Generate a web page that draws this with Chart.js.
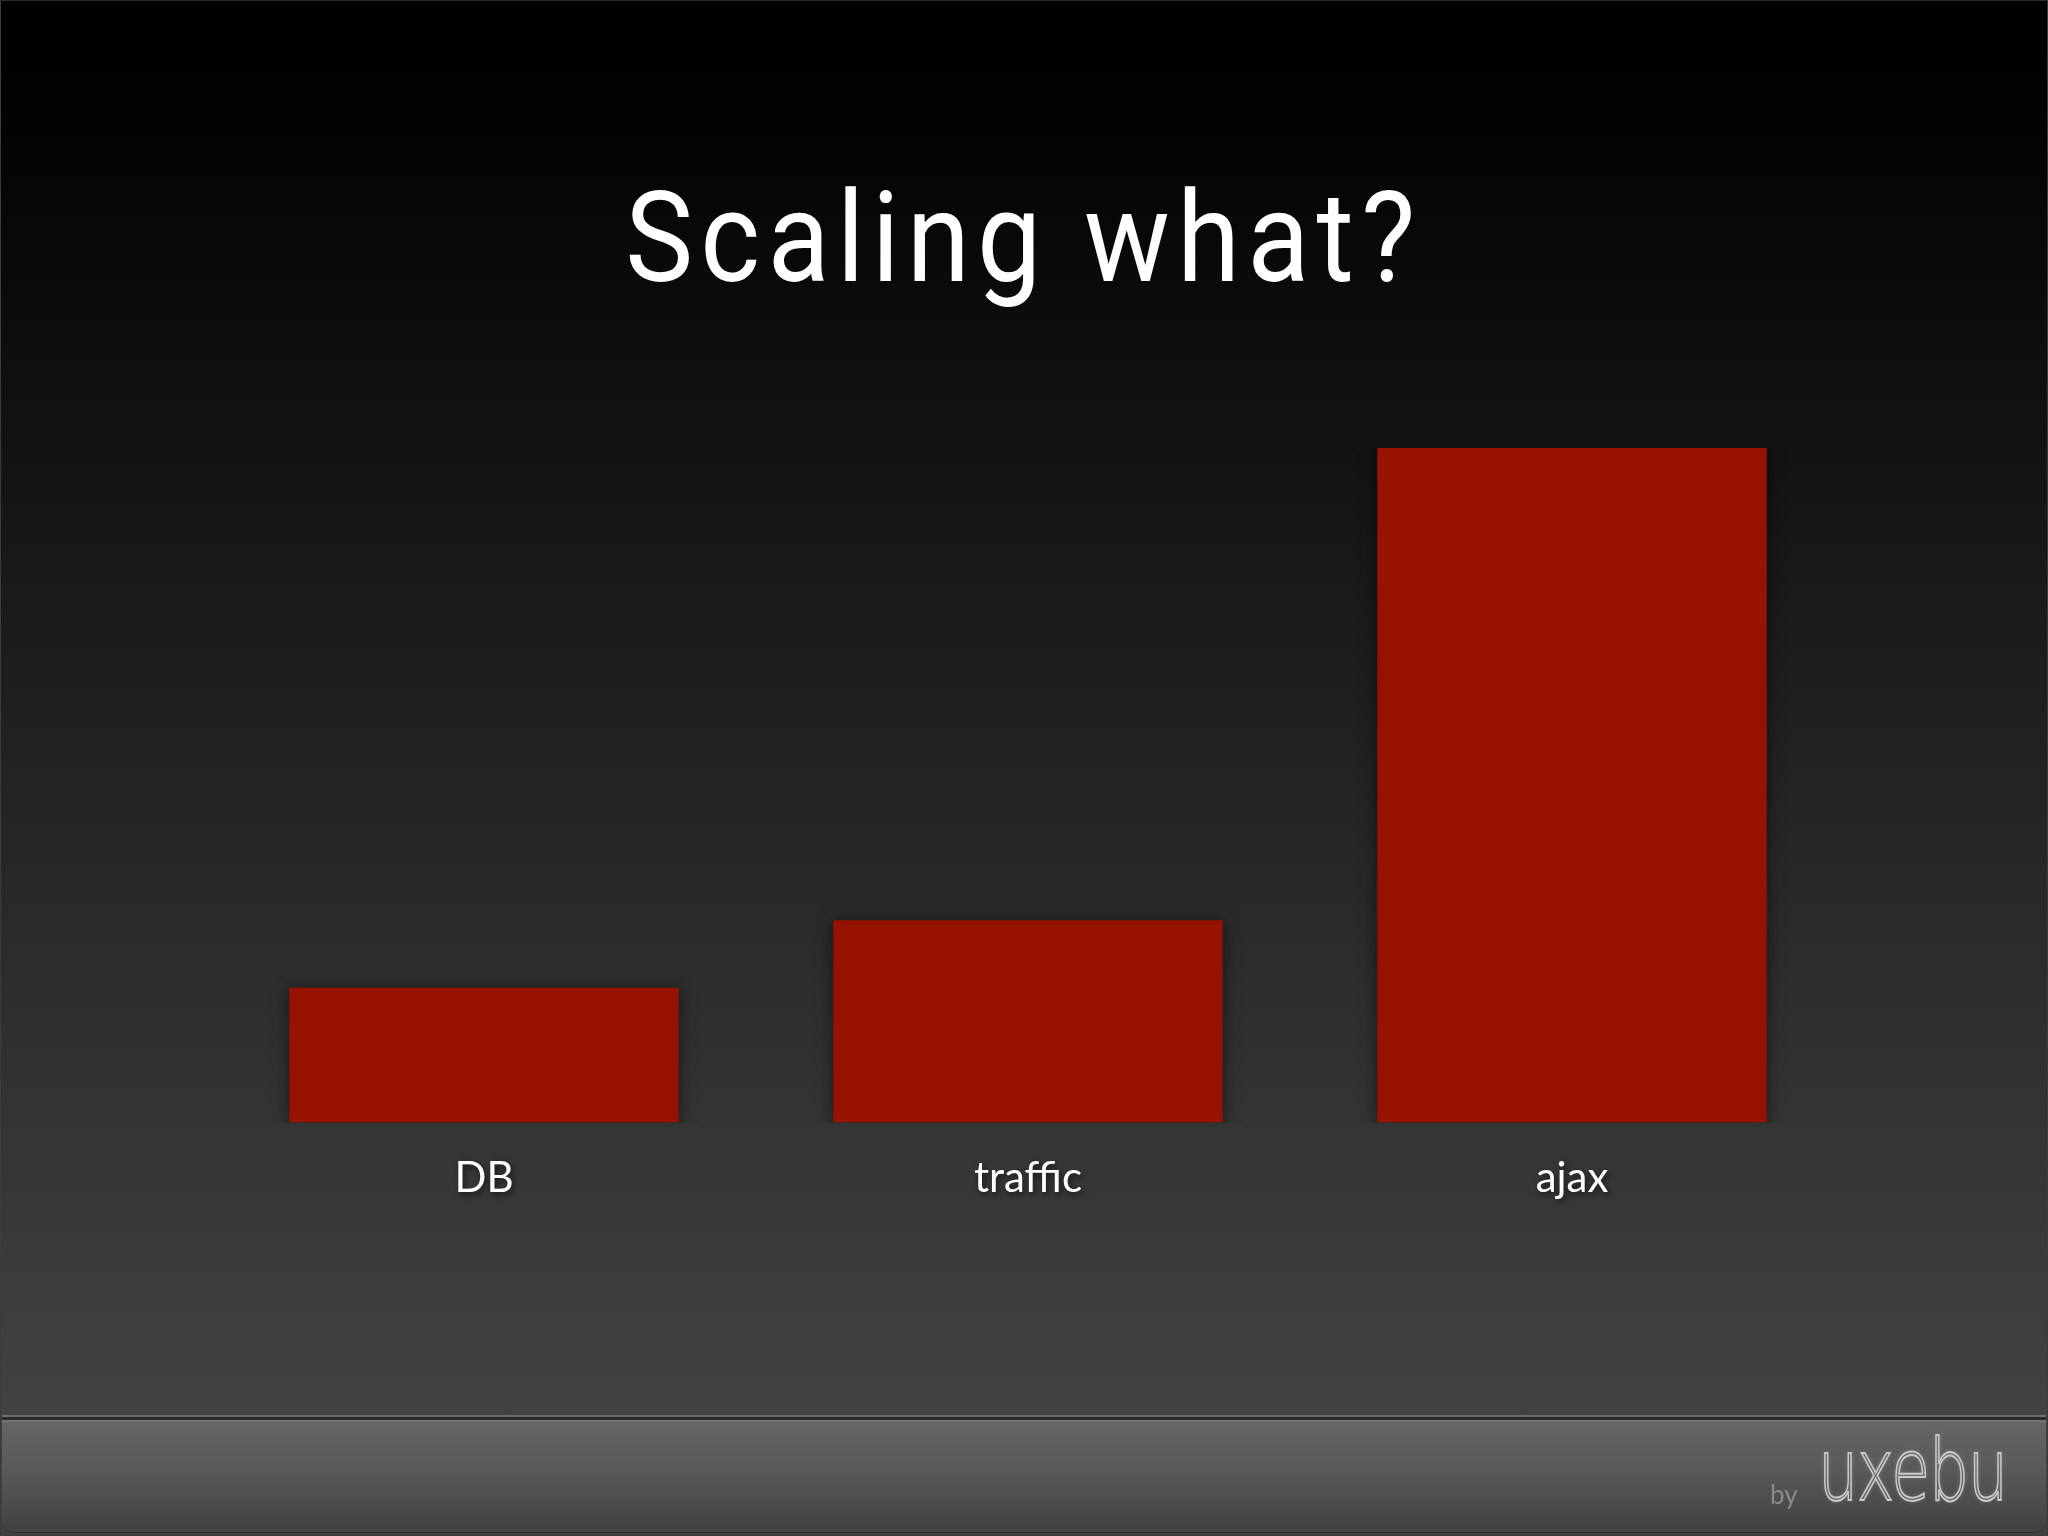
<!DOCTYPE html>
<html>
<head>
<meta charset="utf-8">
<script src="https://cdn.jsdelivr.net/npm/chart.js@4.4.1/dist/chart.umd.min.js"></script>
<style>
  html, body { margin: 0; padding: 0; }
  body {
    width: 2048px; height: 1536px; overflow: hidden; position: relative;
    background: linear-gradient(to bottom, #000 0px, #020202 110px, #1c1c1c 640px, #2e2e2f 1000px, #424243 1410px);
  }
  #frame { position: absolute; left: 0; top: 0; width: 2046px; height: 1534px; border: 1px solid #3c3c3c; border-top-color: #2a2a2a; }
  #title {
    position: absolute; left: 0; top: 174px; width: 2048px; text-align: center;
    font-family: Roboto, "DejaVu Sans", sans-serif; font-weight: 400; font-size: 127px;
    color: #fff; line-height: 1; letter-spacing: 8px;
  }
  #title span { display: inline-block; transform: scaleX(0.9); }
  #wrap { position: absolute; left: 0; top: 0; width: 2048px; height: 1536px; }
  #footer {
    position: absolute; left: 2px; top: 1415px; width: 2044px; height: 115px;
    border-top: 2px solid #6c6c6c; border-radius: 0 0 10px 10px;
    background: linear-gradient(to bottom, #2a2a2a 0px, #2a2a2a 3px, #7a7a7a 3px, #656565 6px, #5a5a5a 50px, #434343 110px);
    box-shadow: 0 1px 0 #2e2e2e;
  }
  #by {
    position: absolute; left: 1770px; top: 1478px; font-family: Lato, sans-serif; font-size: 26px;
    color: #8a8a8a;
  }
  #logo {
    position: absolute; left: 1818px; top: 1420px; font-family: "DejaVu Sans", sans-serif; font-weight: 200;
    font-size: 86px; letter-spacing: -2px; color: transparent; -webkit-text-stroke: 2px #c8c8c8;
    text-shadow: 0 0 6px rgba(255,255,255,0.25); transform: scaleX(0.74); transform-origin: left;
  }
</style>
</head>
<body>
<div id="wrap"><canvas id="chart" width="2048" height="1536"></canvas></div>
<div id="title"><span>Scaling what?</span></div>
<div id="footer"></div>
<div id="by">by</div>
<div id="logo">uxebu</div>
<div id="frame"></div>
<script>
  const categories = ['DB', 'traffic', 'ajax'];
  const effort = [20, 30, 100];

  const BAR_RED = '#951300';

  // shadows: soft one under the category labels, darker one under the bars
  const shadows = {
    id: 'shadows',
    beforeDraw(chart) {
      const ctx = chart.ctx;
      ctx.save();
      ctx.shadowColor = 'rgba(0,0,0,0.6)';
      ctx.shadowBlur = 6;
      ctx.shadowOffsetX = 2;
      ctx.shadowOffsetY = 3;
    },
    beforeDatasetsDraw(chart) {
      const ctx = chart.ctx;
      ctx.restore();
      ctx.save();
      ctx.shadowColor = 'rgba(0,0,0,0.55)';
      ctx.shadowBlur = 14;
      ctx.shadowOffsetX = 0;
      ctx.shadowOffsetY = 2;
    },
    afterDatasetsDraw(chart) { chart.ctx.restore(); },
  };

  new Chart(document.getElementById('chart'), {
    type: 'bar',
    data: {
      labels: categories,
      datasets: [{
        data: effort,
        backgroundColor: BAR_RED,
        borderWidth: 0,
        barPercentage: 0.716,
        categoryPercentage: 1,
      }],
    },
    options: {
      responsive: false,
      animation: false,
      layout: { padding: { left: 212, right: 204, top: 448, bottom: 301 } },
      plugins: { legend: { display: false }, tooltip: { enabled: false }, title: { display: false } },
      scales: {
        y: { display: false, min: 0, max: 100 },
        x: {
          grid: { display: false, drawTicks: false },
          border: { display: false },
          ticks: {
            color: '#ffffff',
            padding: 31,
            font: { family: 'Lato, "Open Sans", sans-serif', size: 42 },
          },
        },
      },
    },
    plugins: [shadows],
  });
</script>
</body>
</html>
